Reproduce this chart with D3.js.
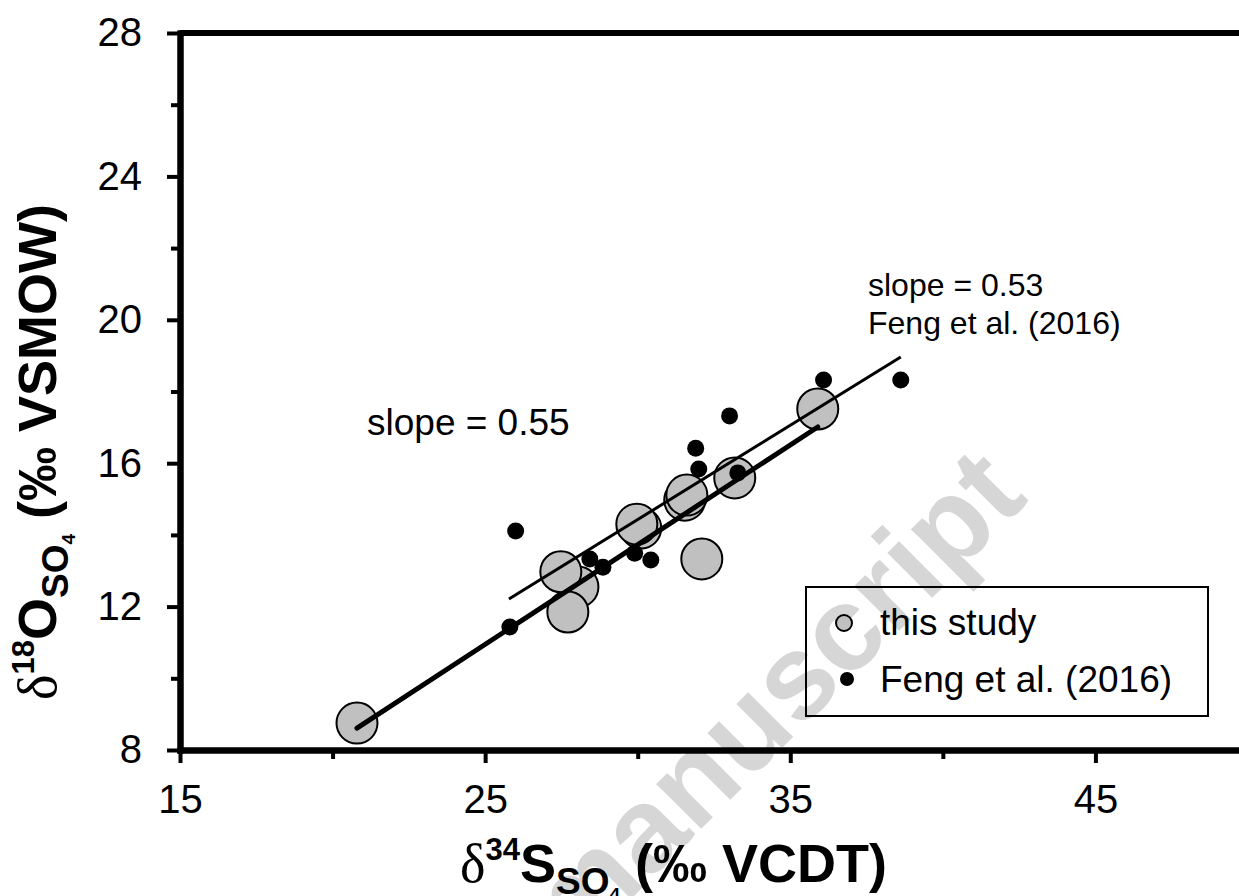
<!DOCTYPE html>
<html>
<head>
<meta charset="utf-8">
<script src="https://cdn.jsdelivr.net/npm/d3@7"></script>
<style>
  body { margin: 0; background: #fff; }
  svg { display: block; font-family: "Liberation Sans", Arial, sans-serif; }
</style>
</head>
<body>
<div id="chart"></div>
<script>
// data
const studyX = [28.04, 20.8, 27.48, 27.71, 30.1, 29.97, 31.54, 31.61, 33.18, 35.9, 32.1];
const studyY = [12.55, 8.75, 12.97, 11.85, 14.19, 14.3, 14.97, 15.11, 15.59, 17.51, 13.33];

const fengX = [36.09, 33.01, 31.9, 32.0, 33.28, 26.0, 28.43, 28.86, 29.9, 30.43, 25.81, 38.62];
const fengY = [18.32, 17.32, 16.42, 15.84, 15.73, 14.11, 13.33, 13.1, 13.49, 13.3, 11.43, 18.32];

// regression lines (end points)
const studyFitX = [20.8, 35.9];
const studyFitY = [8.61, 17.01];
const fengFitX = [25.78, 38.62];
const fengFitY = [12.21, 18.96];

const xTicks = [15, 25, 35, 45];
const xMinor = [20, 30, 40, 50];
const yTicks = [8, 12, 16, 20, 24, 28];
const yMinor = [10, 14, 18, 22, 26];

const width = 1239, height = 896;

const svg = d3.select("#chart").append("svg")
  .attr("width", width)
  .attr("height", height);

const x = d3.scaleLinear().domain([15, 50]).range([180, 1248]);
const y = d3.scaleLinear().domain([8, 28]).range([750, 33]);

// watermark
svg.append("text")
  .attr("transform", "translate(1030,500) rotate(-45)")
  .attr("text-anchor", "end")
  .attr("font-size", 120)
  .attr("font-weight", "bold")
  .attr("fill", "#d6d6d6")
  .text("manuscript");

// frame top
svg.append("line")
  .attr("x1", x(15)).attr("x2", x(50))
  .attr("y1", y(28)).attr("y2", y(28))
  .attr("stroke", "#000").attr("stroke-width", 6);

// axes
function styleAxis(g, fontSize) {
  g.attr("font-family", null).attr("font-size", null);
  g.select(".domain").attr("stroke-width", 6).attr("stroke-linecap", "square");
  g.selectAll(".tick line").attr("stroke-width", 4);
  g.selectAll(".tick text").attr("font-size", fontSize).attr("fill", "#000");
}

svg.append("g")
  .attr("transform", `translate(0,${y(8)})`)
  .call(d3.axisBottom(x).tickValues(xMinor).tickSize(9).tickSizeOuter(0).tickFormat(""))
  .call(g => styleAxis(g, 0));

svg.append("g")
  .attr("transform", `translate(${x(15)},0)`)
  .call(d3.axisLeft(y).tickValues(yMinor).tickSize(9).tickSizeOuter(0).tickFormat(""))
  .call(g => styleAxis(g, 0));

svg.append("g")
  .attr("transform", `translate(0,${y(8)})`)
  .call(d3.axisBottom(x).tickValues(xTicks).tickSize(13).tickSizeOuter(0).tickPadding(22))
  .call(g => styleAxis(g, 40));

svg.append("g")
  .attr("transform", `translate(${x(15)},0)`)
  .call(d3.axisLeft(y).tickValues(yTicks).tickSize(13).tickSizeOuter(0).tickPadding(25))
  .call(g => styleAxis(g, 40));

// axis titles
function isoTitle(t, mass, elem, unit) {
  t.attr("font-weight", "bold").attr("font-size", 54);
  t.append("tspan").attr("font-family", "Liberation Serif, serif")
    .attr("font-weight", "normal").text("\u03B4");
  t.append("tspan").attr("font-size", 31).attr("dy", -22).text(mass);
  t.append("tspan").attr("dy", 22).text(elem);
  t.append("tspan").attr("font-size", 37).attr("dy", 12).text("SO");
  t.append("tspan").attr("font-size", 19).attr("dy", 7).text("4");
  t.append("tspan").attr("dy", -19).text(" (\u2030 " + unit + ")");
}

svg.append("text")
  .attr("x", 460).attr("y", 882)
  .call(t => isoTitle(t, "34", "S", "VCDT"));

svg.append("text")
  .attr("transform", "translate(56,700) rotate(-90)")
  .call(t => isoTitle(t, "18", "O", "VSMOW"));

// this study circles
const study = studyX.map((v, i) => ({ x: v, y: studyY[i] }));
svg.selectAll(".study").data(study).enter()
  .append("circle")
  .attr("class", "study")
  .attr("cx", d => x(d.x))
  .attr("cy", d => y(d.y))
  .attr("r", 20.5)
  .attr("fill", "#c0c0c0")
  .attr("stroke", "#000")
  .attr("stroke-width", 2);

// fit lines
const line = d3.line().x(d => x(d[0])).y(d => y(d[1]));
svg.append("path")
  .attr("d", line(studyFitX.map((v, i) => [v, studyFitY[i]])))
  .attr("stroke", "#000").attr("stroke-width", 5).attr("stroke-linecap", "round").attr("fill", "none");
svg.append("path")
  .attr("d", line(fengFitX.map((v, i) => [v, fengFitY[i]])))
  .attr("stroke", "#000").attr("stroke-width", 3).attr("fill", "none");

// Feng et al. dots
const feng = fengX.map((v, i) => ({ x: v, y: fengY[i] }));
svg.selectAll(".feng").data(feng).enter()
  .append("circle")
  .attr("class", "feng")
  .attr("cx", d => x(d.x))
  .attr("cy", d => y(d.y))
  .attr("r", 8.5)
  .attr("fill", "#000");

// annotations
svg.append("text").attr("x", 367).attr("y", 435).attr("font-size", 37).text("slope = 0.55");
svg.append("text").attr("x", 868).attr("y", 296).attr("font-size", 32).text("slope = 0.53");
svg.append("text").attr("x", 868).attr("y", 334).attr("font-size", 32).text("Feng et al. (2016)");

// legend
const legend = svg.append("g");
legend.append("rect")
  .attr("x", 806).attr("y", 587).attr("width", 402).attr("height", 129)
  .attr("fill", "none").attr("stroke", "#000").attr("stroke-width", 2);
legend.append("circle").attr("cx", 844).attr("cy", 623).attr("r", 8)
  .attr("fill", "#c0c0c0").attr("stroke", "#000").attr("stroke-width", 2);
legend.append("text").attr("x", 880).attr("y", 635).attr("font-size", 37).text("this study");
legend.append("circle").attr("cx", 847).attr("cy", 679).attr("r", 7).attr("fill", "#000");
legend.append("text").attr("x", 880).attr("y", 692).attr("font-size", 37).text("Feng et al. (2016)");
</script>
</body>
</html>
